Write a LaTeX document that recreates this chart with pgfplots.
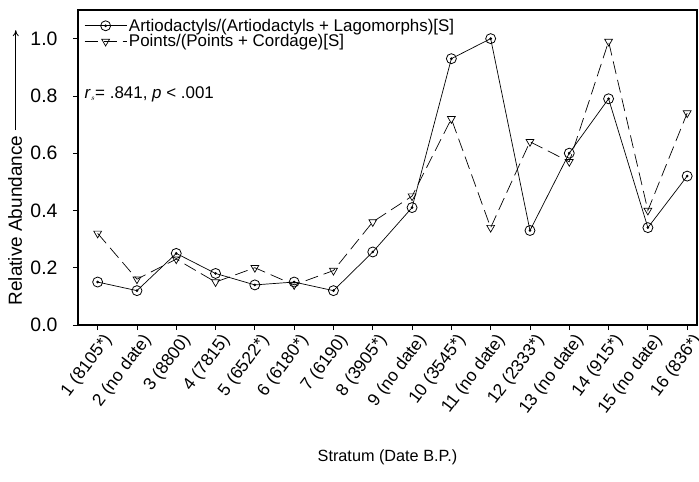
\documentclass[border=0pt]{standalone}
\usepackage{fontspec}
\setmainfont{Liberation Sans}
\usepackage{pgfplots}
\pgfplotsset{compat=1.18}
\usetikzlibrary{arrows.meta}
\pgfdeclareplotmark{odot}{%
  \pgfpathcircle{\pgfpointorigin}{\pgfplotmarksize}\pgfusepathqstroke
  \pgfpathcircle{\pgfpointorigin}{0.18\pgfplotmarksize}\pgfusepathqfillstroke}
\begin{document}
\begin{tikzpicture}
\begin{axis}[
  name=ax,
  scale only axis,
  width=619bp, height=315bp,
  xmin=0.5, xmax=16.25,
  ymin=0, ymax=1.1,
  axis line style={line width=1.6bp},
  tick align=outside,
  xtick pos=bottom, ytick pos=left,
  major tick length=5bp,
  tick style={line width=0.8bp, black},
  xtick={1,...,16},
  xticklabels={1 (8105*),2 (no date),3 (8800),4 (7815),5 (6522*),6 (6180*),7 (6190),8 (3905*),9 (no date),10 (3545*),11 (no date),12 (2333*),13 (no date),14 (915*),15 (no date),16 (836*)},
  xticklabel style={rotate=53, anchor=east, font=\fontsize{17.5}{20}\selectfont, inner sep=1bp, xshift=2bp, yshift=-13bp},
  ytick={0,0.2,...,1.0},
  /pgf/number format/fixed, /pgf/number format/fixed zerofill, /pgf/number format/precision=1, /pgf/number format/assume math mode=true,
  yticklabel style={font=\fontsize{19.5}{22}\selectfont, xshift=-12bp},
  xlabel={Stratum (Date B.P.)},
  xlabel style={font=\fontsize{16.3}{20}\selectfont, at={(axis description cs:0.5,0)}, anchor=north, yshift=-121bp},
  ylabel={Relative Abundance \tikz[baseline=-0.6ex]\draw[-{To[length=6bp,width=6bp]}, line width=0.8bp] (0,0)--(100bp,0);},
  ylabel style={font=\fontsize{19}{22}\selectfont, at={(axis description cs:0,0.5)}, anchor=center, yshift=63bp},
  legend style={draw=none, fill=none, at={(0.005,0.985)}, anchor=north west, font=\fontsize{17}{19}\selectfont, row sep=-2bp},
  legend cell align=left,
  legend image code/.code={%
    \draw[mark repeat=2, mark phase=2, #1] plot coordinates {(0bp,0bp) (21bp,0bp) (42bp,0bp)};},
]
\addplot[black, line width=0.7bp, mark=odot, mark size=5bp, mark options={solid, line width=0.8bp}]
  coordinates {(1,0.15) (2,0.12) (3,0.25) (4,0.18) (5,0.14) (6,0.15) (7,0.12) (8,0.255) (9,0.41) (10,0.93) (11,1.00) (12,0.33) (13,0.60) (14,0.79) (15,0.34) (16,0.52)};
\addlegendentry{Artiodactyls/(Artiodactyls + Lagomorphs)[S]}
\addplot[black, line width=0.7bp, dash pattern=on 13bp off 6bp, mark=triangle, mark size=4.5bp, mark options={solid, rotate=180, line width=0.7bp}]
  coordinates {(1,0.32) (2,0.16) (3,0.23) (4,0.15) (5,0.20) (6,0.14) (7,0.19) (8,0.36) (9,0.45) (10,0.72) (11,0.34) (12,0.64) (13,0.57) (14,0.99) (15,0.40) (16,0.74)};
\addlegendentry{Points/(Points + Cordage)[S]}
\node[anchor=west, font=\fontsize{17}{20}\selectfont] at (axis description cs:0.005,0.733) {\textit{r}$_{\scriptscriptstyle s}$= .841, \textit{p} < .001};
\end{axis}
\pgfresetboundingbox
\path (ax.south west) ++(-78bp,-157bp) coordinate (bl);
\path (ax.north east) ++(2bp,10bp) coordinate (tr);
\path[use as bounding box] (bl) rectangle (tr);
\end{tikzpicture}
\end{document}
